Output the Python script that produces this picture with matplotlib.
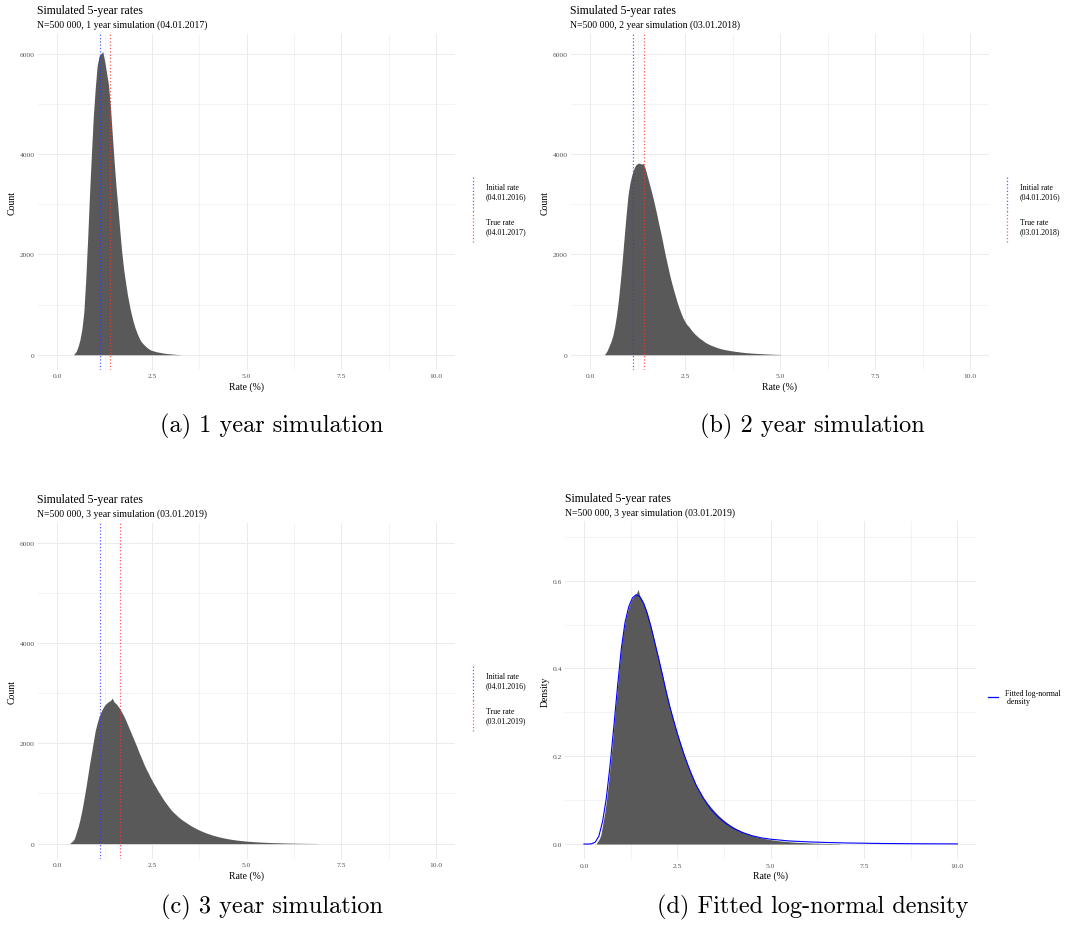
import numpy as np
import matplotlib
matplotlib.use("Agg")
import matplotlib.pyplot as plt
from matplotlib.lines import Line2D

plt.rcParams['font.family'] = ['Liberation Serif', 'DejaVu Serif']

n_sims = 500000
hist_binwidth = 0.01   # bin width used for the simulated histograms
read_step = 0.05       # spacing of the tabulated bin counts below

initial_rate = 1.13
initial_date = "04.01.2016"
horizons = [1, 2, 3]
true_rates = [1.38, 1.42, 1.65]
true_dates = ["04.01.2017", "03.01.2018", "03.01.2019"]

# counts per 0.01-wide bin, tabulated every 0.05 starting at first_rate_*
first_rate_1y = 0.45
counts_1y = [
    20, 70, 170, 310, 520, 850, 1500, 2300, 3200, 4000,
    4750, 5300, 5750, 5950, 6000, 6040, 5850, 5620, 5380, 4960,
    4400, 3850, 3350, 2930, 2470, 2050, 1710, 1450, 1200, 1000,
    820, 670, 540, 440, 350, 275, 230, 190, 155, 125,
    100, 85, 75, 62, 55, 48, 40, 34, 28, 24,
    20, 17, 13, 10, 7, 5, 3,
]

first_rate_2y = 0.40
counts_2y = [
    20, 80, 170, 260, 380, 560, 800, 1110, 1480, 1900,
    2350, 2790, 3180, 3420, 3580, 3700, 3780, 3810, 3820, 3800,
    3810, 3720, 3580, 3440, 3300, 3150, 2990, 2820, 2640, 2470,
    2290, 2100, 1920, 1750, 1580, 1430, 1290, 1160, 1030, 920,
    820, 730, 660, 600, 560, 510, 460, 420, 385, 350,
    320, 295, 265, 240, 220, 200, 185, 170, 155, 142,
    130, 120, 110, 102, 95, 88, 82, 76, 70, 65,
    60, 55, 50, 46, 42, 39, 36, 33, 30, 28,
    26, 24, 22, 20, 18, 16, 14, 12, 10, 9,
    8, 7, 6,
]

first_rate_3y = 0.35
counts_3y = [
    20, 50, 100, 220, 340, 490, 670, 880, 1100, 1340,
    1580, 1800, 2030, 2250, 2400, 2530, 2620, 2700, 2760, 2800,
    2830, 2850, 2900, 2820, 2790, 2740, 2690, 2620, 2550, 2470,
    2380, 2290, 2200, 2110, 2020, 1930, 1830, 1740, 1650, 1560,
    1480, 1410, 1330, 1260, 1190, 1130, 1060, 1000, 940, 880,
    825, 775, 725, 675, 635, 600, 565, 530, 500, 470,
    445, 420, 395, 370, 348, 327, 307, 288, 270, 253,
    237, 222, 208, 195, 182, 170, 159, 149, 139, 130,
    121, 113, 106, 99, 92, 86, 80, 75, 70, 65,
    61, 57, 53, 50, 47, 44, 41, 38, 36, 34,
    32, 30, 28, 26, 24, 23, 21, 20, 19, 18,
    17, 16, 15, 14, 13, 12, 11, 10, 10, 9,
    8, 8, 7, 7, 6, 6, 5, 5, 4, 4,
    3,
]

# fitted log-normal density for the 3 year simulation
fit_rate = [0.0, 0.1, 0.2, 0.3, 0.4, 0.5, 0.6, 0.7, 0.8, 0.9,
            1.0, 1.1, 1.2, 1.3, 1.4, 1.5, 1.6, 1.7, 1.8, 1.9,
            2.0, 2.1, 2.2, 2.3, 2.4, 2.5, 2.6, 2.7, 2.8, 2.9,
            3.0, 3.2, 3.4, 3.6, 3.8, 4.0, 4.25, 4.5, 4.75, 5.0,
            5.5, 6.0, 6.5, 7.0, 8.0, 9.0, 10.0]
fit_density = [0.0, 0.0, 0.0005, 0.004, 0.018, 0.052, 0.105, 0.180, 0.268, 0.360,
               0.445, 0.505, 0.541, 0.561, 0.568, 0.563, 0.548, 0.524, 0.493, 0.458,
               0.423, 0.386, 0.348, 0.313, 0.282, 0.252, 0.225, 0.199, 0.176, 0.155,
               0.135, 0.104, 0.079, 0.061, 0.047, 0.036, 0.026, 0.019, 0.014, 0.011,
               0.007, 0.005, 0.0035, 0.0025, 0.0012, 0.0006, 0.0003]

captions = ["(a) 1 year simulation", "(b) 2 year simulation",
            "(c) 3 year simulation", "(d) Fitted log-normal density"]

W, H = 1069, 929
BAR = '#595959'
GRID = '#EBEBEB'
TICK = '#555555'


def fx(x):
    return x / W


def fy(y):
    return 1 - y / H


def add_panel(left, top, right, bottom):
    return fig.add_axes([fx(left), fy(bottom), (right - left) / W, (bottom - top) / H])


def style(ax, ymajor, yminor, ylabels, ylim):
    ax.set_xlim(-0.5, 10.5)
    ax.set_ylim(*ylim)
    ax.set_xticks([0, 2.5, 5, 7.5, 10])
    ax.set_xticklabels(['0.0', '2.5', '5.0', '7.5', '10.0'])
    ax.set_xticks([1.25, 3.75, 6.25, 8.75], minor=True)
    ax.set_yticks(ymajor)
    ax.set_yticklabels(ylabels)
    ax.set_yticks(yminor, minor=True)
    ax.grid(True, which='major', color=GRID, lw=0.7)
    ax.grid(True, which='minor', color=GRID, lw=0.4)
    ax.set_axisbelow(True)
    for s in ax.spines.values():
        s.set_visible(False)
    ax.tick_params(which='both', length=0, labelsize=5.4, labelcolor=TICK, pad=2.5)
    ax.set_xlabel('Rate (%)', fontsize=7, labelpad=2)


def draw_hist(ax, first, heights):
    # filled outline through the bin centres, closed at both ends
    centres = first + read_step * np.arange(len(heights))
    xs = np.concatenate([[centres[0] - read_step / 2], centres, [centres[-1] + read_step / 2]])
    ys = np.concatenate([[0], heights, [0]])
    ax.fill_between(xs, 0, ys, color=BAR, lw=0)


fig = plt.figure(figsize=(W / 100, H / 100), dpi=100)

rects = [(38.4, 34.6, 455, 370.8), (571, 34.6, 989, 370.8),
         (38.4, 523.5, 455, 859.7), (565.3, 522.4, 976, 860.4)]
firsts = [first_rate_1y, first_rate_2y, first_rate_3y]
all_counts = [counts_1y, counts_2y, counts_3y]

for i in range(3):
    left, top, right, bottom = rects[i]
    ax = add_panel(*rects[i])
    draw_hist(ax, firsts[i], all_counts[i])
    ax.axvline(initial_rate, color='#3333ff', ls=':', lw=0.9, alpha=0.8)
    ax.axvline(true_rates[i], color='#ff3333', ls=':', lw=0.9, alpha=0.8)
    style(ax, [0, 2000, 4000, 6000], [1000, 3000, 5000],
          ['0', '2000', '4000', '6000'], (-300, 6400))
    ax.set_ylabel('Count', fontsize=7, labelpad=2)

    fig.text(fx(left - 1.5), fy(top - 23.5), 'Simulated 5-year rates', fontsize=8.5, va='center')
    fig.text(fx(left - 1.5), fy(top - 9.5),
             f'N=500 000, {horizons[i]} year simulation ({true_dates[i]})',
             fontsize=7, va='center')

    # legend: vertical dotted keys for the two reference rates
    lx = right + 18
    fig.add_artist(Line2D([fx(lx), fx(lx)], [fy(top + 143.4), fy(top + 177.5)],
                          color='#3333ff', ls=':', lw=0.9, alpha=0.8))
    fig.add_artist(Line2D([fx(lx), fx(lx)], [fy(top + 177.5), fy(top + 210.4)],
                          color='#ff3333', ls=':', lw=0.9, alpha=0.8))
    fig.text(fx(lx + 13), fy(top + 158), f'Initial rate\n({initial_date})',
             fontsize=5.7, va='center', linespacing=1.1)
    fig.text(fx(lx + 13), fy(top + 193), f'True rate\n({true_dates[i]})',
             fontsize=5.7, va='center', linespacing=1.1)

# density panel: same 3 year simulation scaled to a density, plus the fit
left, top, right, bottom = rects[3]
ax = add_panel(*rects[3])
density_3y = np.array(counts_3y) / (n_sims * hist_binwidth)
draw_hist(ax, first_rate_3y, density_3y)
ax.plot(fit_rate, fit_density, color='#0000ff', lw=0.8)
style(ax, [0, 0.2, 0.4, 0.6], [0.1, 0.3, 0.5, 0.7],
      ['0.0', '0.2', '0.4', '0.6'], (-0.035, 0.735))
ax.set_ylabel('Density', fontsize=7, labelpad=2)
fig.text(fx(left - 0.3), fy(top - 23.4), 'Simulated 5-year rates', fontsize=8.5, va='center')
fig.text(fx(left - 0.3), fy(top - 9.4), 'N=500 000, 3 year simulation (03.01.2019)',
         fontsize=7, va='center')
fig.add_artist(Line2D([fx(988), fx(998)], [fy(698), fy(698)], color='#0000ff', lw=0.9))
fig.text(fx(1005), fy(698), 'Fitted log-normal\n density', fontsize=5.7, va='center',
         linespacing=1.1)

# subfigure captions
cap_pos = [(272, 426), (812, 426), (272, 907), (813, 907)]
for (cx, cy), cap in zip(cap_pos, captions):
    fig.text(fx(cx), fy(cy), cap, fontsize=17.5, family='cmr10', ha='center', va='center')

fig.savefig('out.png', dpi=100, facecolor='white')
